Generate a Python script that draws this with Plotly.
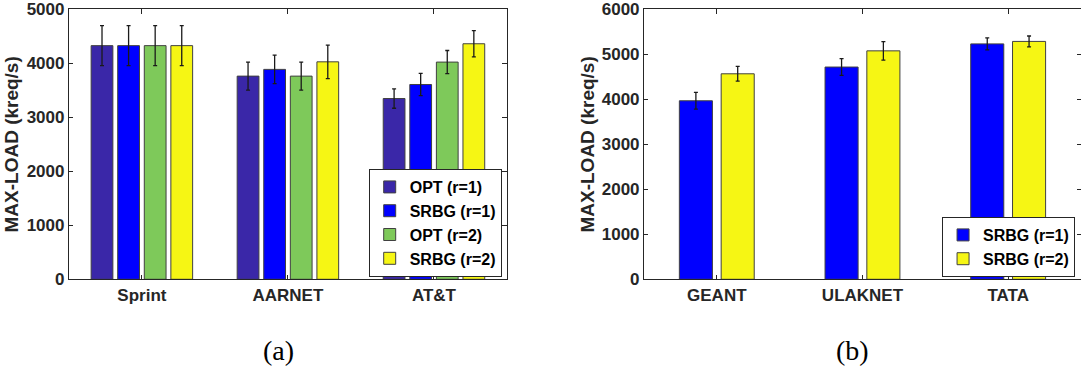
import plotly.graph_objects as go

# ---- data -----------------------------------------------------------------
networks_a = ["Sprint", "AARNET", "AT&T"]
networks_b = ["GEANT", "ULAKNET", "TATA"]

series_a = ["OPT (r=1)", "SRBG (r=1)", "OPT (r=2)", "SRBG (r=2)"]
series_b = ["SRBG (r=1)", "SRBG (r=2)"]

# MAX-LOAD (kreq/s), panel (a)
opt_r1_a = [4330, 3765, 3350]
srbg_r1_a = [4330, 3890, 3610]
opt_r2_a = [4330, 3765, 4025]
srbg_r2_a = [4330, 4030, 4365]

opt_r1_a_err = [370, 260, 180]
srbg_r1_a_err = [370, 265, 205]
opt_r2_a_err = [370, 260, 215]
srbg_r2_a_err = [370, 310, 245]

# MAX-LOAD (kreq/s), panel (b)
srbg_r1_b = [3970, 4720, 5235]
srbg_r2_b = [4570, 5080, 5290]

srbg_r1_b_err = [185, 185, 135]
srbg_r2_b_err = [165, 205, 120]

# ---- style ------------------------------------------------------------------
PURPLE = "#3a27a8"
BLUE = "#0000ff"
GREEN = "#7ec95a"
YELLOW = "#f6f614"
INK = "#262626"
EDGE = "#404040"
SANS = "Liberation Sans, Arial, sans-serif"
SERIF = "Liberation Serif, Times New Roman, serif"

colors_a = [PURPLE, BLUE, GREEN, YELLOW]
colors_b = [BLUE, YELLOW]


def group_offsets(n, slot, width):
    """Left-edge offsets of n side-by-side bars centred on a category."""
    return [(-n / 2 + i) * slot + (slot - width) / 2 for i in range(n)]


fig = go.Figure()

# panel (a)
values_a = [opt_r1_a, srbg_r1_a, opt_r2_a, srbg_r2_a]
errors_a = [opt_r1_a_err, srbg_r1_a_err, opt_r2_a_err, srbg_r2_a_err]
width_a = 0.149
offs_a = group_offsets(4, 0.182, width_a)
for name, vals, errs, col, off in zip(series_a, values_a, errors_a, colors_a, offs_a):
    fig.add_trace(go.Bar(
        x=[1, 2, 3], y=vals, name=name,
        width=width_a, offset=off,
        marker=dict(color=col, line=dict(color=EDGE, width=1)),
        error_y=dict(type="data", array=errs, color="#1a1a1a", thickness=1.3, width=2),
        xaxis="x", yaxis="y", legend="legend",
    ))

# panel (b)
values_b = [srbg_r1_b, srbg_r2_b]
errors_b = [srbg_r1_b_err, srbg_r2_b_err]
width_b = 0.227
offs_b = group_offsets(2, 0.287, width_b)
for name, vals, errs, col, off in zip(series_b, values_b, errors_b, colors_b, offs_b):
    fig.add_trace(go.Bar(
        x=[1, 2, 3], y=vals, name=name,
        width=width_b, offset=off,
        marker=dict(color=col, line=dict(color=EDGE, width=1)),
        error_y=dict(type="data", array=errs, color="#1a1a1a", thickness=1.3, width=2),
        xaxis="x2", yaxis="y2", legend="legend2",
    ))

tickfont = dict(family=SANS, size=17, color=INK, weight="bold")
axis_common = dict(
    showline=True, linecolor=INK, linewidth=1, mirror="ticks",
    ticks="inside", ticklen=4.5, tickcolor=INK, tickwidth=1,
    showgrid=False, zeroline=False, tickfont=tickfont, automargin=False,
)
title_font = dict(family=SANS, size=19, color=INK, weight="bold")

ydom = [0.2431, 0.9743]
legend_common = dict(
    bgcolor="white", bordercolor=INK, borderwidth=1,
    font=dict(family=SANS, size=16, color="black", weight="bold"),
    xanchor="right", yanchor="bottom", tracegroupgap=0,
)

fig.update_layout(
    width=1081, height=369,
    margin=dict(l=0, r=0, t=0, b=0),
    paper_bgcolor="white", plot_bgcolor="white",
    barmode="overlay",
    xaxis=dict(domain=[0.0637, 0.469], range=[0.5, 3.5],
               tickvals=[1, 2, 3], ticktext=networks_a, anchor="y", **axis_common),
    yaxis=dict(domain=ydom, range=[0, 5000], dtick=1000, anchor="x",
               title=dict(text="MAX-LOAD (kreq/s)", font=title_font, standoff=2),
               **axis_common),
    xaxis2=dict(domain=[0.5957, 1.0], range=[0.5, 3.5],
                tickvals=[1, 2, 3], ticktext=networks_b, anchor="y2", **axis_common),
    yaxis2=dict(domain=ydom, range=[0, 6000], dtick=1000, anchor="x2",
                title=dict(text="MAX-LOAD (kreq/s)", font=title_font, standoff=2),
                **axis_common),
    legend=dict(x=0.4641, y=0.2493, **legend_common),
    legend2=dict(x=0.9945, y=0.2493, **legend_common),
    annotations=[
        dict(text="(a)", x=278 / 1081, y=(369 - 350) / 369, xref="paper", yref="paper",
             xanchor="center", yanchor="middle", showarrow=False,
             font=dict(family=SERIF, size=28, color="black")),
        dict(text="(b)", x=852 / 1081, y=(369 - 350) / 369, xref="paper", yref="paper",
             xanchor="center", yanchor="middle", showarrow=False,
             font=dict(family=SERIF, size=28, color="black")),
    ],
)

fig.write_html("out.html")
